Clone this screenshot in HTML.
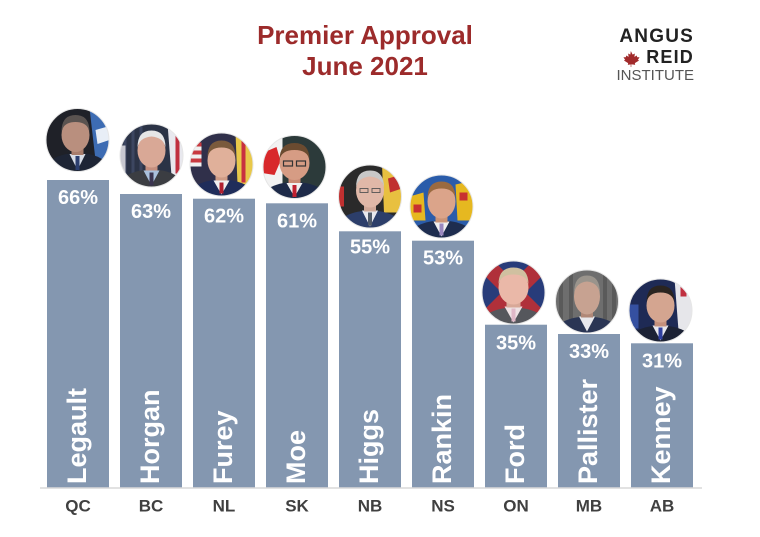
<!DOCTYPE html>
<html><head><meta charset="utf-8"><style>
html,body{margin:0;padding:0;background:#fff;}
svg{display:block;}
text{font-family:"Liberation Sans",Arial,sans-serif;}
</style></head><body>
<svg width="760" height="537" viewBox="0 0 760 537" xmlns="http://www.w3.org/2000/svg">
<defs><clipPath id="c"><circle cx="0" cy="0" r="31.5"/></clipPath></defs>
<rect width="760" height="537" fill="#fff"/>

<!-- Title -->
<text x="365" y="44" font-size="26" font-weight="bold" fill="#9c2b2b" text-anchor="middle">Premier Approval</text>
<text x="365" y="75" font-size="26" font-weight="bold" fill="#9c2b2b" text-anchor="middle">June 2021</text>

<!-- Logo -->
<text x="694" y="42" font-size="19" font-weight="bold" fill="#222" text-anchor="end" letter-spacing="1.2">ANGUS</text>
<text x="694" y="63" font-size="18" font-weight="bold" fill="#222" text-anchor="end" letter-spacing="1.2">REID</text>
<path d="M631,52 l1.5,3 2,-1 -0.5,3.5 2.5,-1.5 0.5,1.5 2,0 -1.5,2.5 1,0.5 -4,2.5 0.3,1.5 -3.3,-0.5 -3.3,0.5 0.3,-1.5 -4,-2.5 1,-0.5 -1.5,-2.5 2,0 0.5,-1.5 2.5,1.5 -0.5,-3.5 2,1 z M631,64 l0,3" fill="#a12a2b" stroke="#a12a2b" stroke-width="0.6"/>
<text x="694" y="80" font-size="15" fill="#555" text-anchor="end">INSTITUTE</text>

<!-- Bars -->
<g fill="#8497b0">
<rect x="47" y="180" width="62" height="308"/>
<rect x="120" y="194" width="62" height="294"/>
<rect x="193" y="198.7" width="62" height="289.3"/>
<rect x="266" y="203.3" width="62" height="284.7"/>
<rect x="339" y="231.3" width="62" height="256.7"/>
<rect x="412" y="240.7" width="62" height="247.3"/>
<rect x="485" y="324.7" width="62" height="163.3"/>
<rect x="558" y="334" width="62" height="154"/>
<rect x="631" y="343.3" width="62" height="144.7"/>
</g>
<line x1="40" y1="488" x2="702" y2="488" stroke="#d9d9d9" stroke-width="1.5"/>

<!-- Percent labels -->
<g font-size="20" font-weight="bold" fill="#fff" text-anchor="middle">
<text x="78" y="204">66%</text>
<text x="151" y="218">63%</text>
<text x="224" y="222.7">62%</text>
<text x="297" y="227.3">61%</text>
<text x="370" y="253.3">55%</text>
<text x="443" y="264.7">53%</text>
<text x="516" y="349.7">35%</text>
<text x="589" y="358">33%</text>
<text x="662" y="367.3">31%</text>
</g>

<!-- Names rotated -->
<g font-size="27" font-weight="bold" fill="#fff">
<text transform="translate(86,484) rotate(-90)">Legault</text>
<text transform="translate(159,484) rotate(-90)">Horgan</text>
<text transform="translate(232,484) rotate(-90)">Furey</text>
<text transform="translate(305,484) rotate(-90)">Moe</text>
<text transform="translate(378,484) rotate(-90)">Higgs</text>
<text transform="translate(451,484) rotate(-90)">Rankin</text>
<text transform="translate(524,484) rotate(-90)">Ford</text>
<text transform="translate(597,484) rotate(-90)">Pallister</text>
<text transform="translate(670,484) rotate(-90)">Kenney</text>
</g>

<!-- Category labels -->
<g font-size="17" font-weight="bold" fill="#404040" text-anchor="middle">
<text x="78" y="511.5">QC</text>
<text x="151" y="511.5">BC</text>
<text x="224" y="511.5">NL</text>
<text x="297" y="511.5">SK</text>
<text x="370" y="511.5">NB</text>
<text x="443" y="511.5">NS</text>
<text x="516" y="511.5">ON</text>
<text x="589" y="511.5">MB</text>
<text x="662" y="511.5">AB</text>
</g>

<!-- Portraits -->
<!-- QC Legault -->
<g transform="translate(77.5,140)">
 <g clip-path="url(#c)">
  <rect x="-32" y="-32" width="64" height="64" fill="#1f2128"/>
  <polygon points="12,-32 32,-32 32,20 18,20" fill="#3d6cb3"/>
  <polygon points="18,-10 32,-14 32,0 20,4" fill="#e8eef6"/>
  <ellipse cx="0" cy="30" rx="32" ry="17" fill="#1e2535"/>
  <polygon points="-8,14 8,14 0,30" fill="#d8dde6"/>
  <rect x="-2" y="16" width="4" height="14" fill="#2c3f70"/>
  <rect x="-6" y="4" width="12" height="11" fill="#a87d6c"/>
  <ellipse cx="-2" cy="-5" rx="14" ry="17" fill="#b98f7e"/>
  <path d="M-16,-8 Q-16,-25 -2,-25 Q12,-25 12,-8 Q10,-18 -2,-18 Q-14,-18 -16,-8z" fill="#5a5350"/>
 </g>
 <circle r="31.5" fill="none" stroke="#e6e6e6" stroke-width="1"/>
</g>
<!-- BC Horgan -->
<g transform="translate(151.5,155.5)">
 <g clip-path="url(#c)">
  <rect x="-32" y="-32" width="64" height="64" fill="#2b3346"/>
  <g fill="#3c4660"><rect x="-28" y="-32" width="3" height="64"/><rect x="-20" y="-32" width="3" height="64"/><rect x="-12" y="-32" width="3" height="64"/></g>
  <polygon points="16,-32 32,-32 32,20 20,20" fill="#e8e8ee"/>
  <rect x="24" y="-32" width="4" height="50" fill="#c03040"/>
  <polygon points="-32,-10 -26,-10 -26,20 -32,20" fill="#c8c8d0"/>
  <ellipse cx="0" cy="31" rx="32" ry="17" fill="#3b3d42"/>
  <polygon points="-8,15 8,15 0,30" fill="#a9c0dc"/>
  <rect x="-2" y="17" width="4" height="13" fill="#3a3450"/>
  <rect x="-6" y="4" width="12" height="11" fill="#c48f7f"/>
  <ellipse cx="0" cy="-5" rx="14" ry="17" fill="#d9a896"/>
  <path d="M-14,-8 Q-14,-25 0,-25 Q14,-25 14,-8 Q12,-18 0,-19 Q-12,-18 -14,-8z" fill="#e6e6e6"/>
 </g>
 <circle r="31.5" fill="none" stroke="#e6e6e6" stroke-width="1"/>
</g>
<!-- NL Furey -->
<g transform="translate(221.5,164.5)">
 <g clip-path="url(#c)">
  <rect x="-32" y="-32" width="64" height="64" fill="#30304a"/>
  <g fill="#c83a40"><rect x="-32" y="-22" width="12" height="4"/><rect x="-32" y="-14" width="12" height="4"/><rect x="-32" y="-6" width="12" height="4"/></g>
  <g fill="#f0f0f0"><rect x="-32" y="-18" width="12" height="4"/><rect x="-32" y="-10" width="12" height="4"/><rect x="-32" y="-2" width="12" height="4"/></g>
  <polygon points="14,-32 32,-32 32,20 16,20" fill="#e8c84a"/>
  <rect x="20" y="-32" width="4" height="50" fill="#c83040"/>
  <ellipse cx="0" cy="31" rx="32" ry="16" fill="#1f2d5a"/>
  <polygon points="-8,16 8,16 0,30" fill="#f0f0f0"/>
  <rect x="-2" y="18" width="4" height="11" fill="#b02030"/>
  <rect x="-6" y="4" width="12" height="12" fill="#cf9c86"/>
  <ellipse cx="0" cy="-4" rx="14" ry="17" fill="#e0b09a"/>
  <path d="M-14,-7 Q-14,-24 0,-24 Q14,-24 14,-7 Q12,-17 0,-17 Q-12,-17 -14,-7z" fill="#7a5a3c"/>
 </g>
 <circle r="31.5" fill="none" stroke="#e6e6e6" stroke-width="1"/>
</g>
<!-- SK Moe -->
<g transform="translate(294.5,167)">
 <g clip-path="url(#c)">
  <rect x="-32" y="-32" width="64" height="64" fill="#2c3a3a"/>
  <rect x="-32" y="-32" width="20" height="64" fill="#f2f2f2"/>
  <polygon points="-32,-14 -18,-20 -14,-6 -20,8 -32,6" fill="#d8282b"/>
  <ellipse cx="0" cy="31" rx="32" ry="16" fill="#1d2a48"/>
  <polygon points="-8,16 8,16 0,30" fill="#f0f0f0"/>
  <rect x="-2" y="18" width="4" height="12" fill="#c02030"/>
  <rect x="-6" y="4" width="12" height="12" fill="#c98a74"/>
  <ellipse cx="0" cy="-4" rx="15" ry="17" fill="#d69c84"/>
  <path d="M-15,-7 Q-15,-24 0,-24 Q15,-24 15,-7 Q13,-17 0,-17 Q-13,-17 -15,-7z" fill="#6b4b30"/>
  <rect x="-11" y="-6" width="9" height="5" fill="none" stroke="#333" stroke-width="1.2"/>
  <rect x="2" y="-6" width="9" height="5" fill="none" stroke="#333" stroke-width="1.2"/>
 </g>
 <circle r="31.5" fill="none" stroke="#e6e6e6" stroke-width="1"/>
</g>
<!-- NB Higgs -->
<g transform="translate(370,196.5)">
 <g clip-path="url(#c)">
  <rect x="-32" y="-32" width="64" height="64" fill="#2a2a2a"/>
  <polygon points="12,-32 32,-32 32,16 14,16" fill="#e8c040"/>
  <polygon points="18,-18 32,-22 32,-8 20,-4" fill="#c03030"/>
  <rect x="-32" y="-10" width="6" height="20" fill="#c03030"/>
  <ellipse cx="0" cy="30" rx="32" ry="16" fill="#2c3e6a"/>
  <polygon points="-8,14 8,14 0,30" fill="#e8e8ee"/>
  <rect x="-2" y="16" width="4" height="13" fill="#505a6a"/>
  <rect x="-6" y="3" width="12" height="12" fill="#d0a898"/>
  <ellipse cx="0" cy="-6" rx="14" ry="17" fill="#e0b8a8"/>
  <path d="M-14,-9 Q-14,-26 0,-26 Q14,-26 14,-9 Q12,-19 0,-20 Q-12,-19 -14,-9z" fill="#c8c8c8"/>
  <rect x="-10" y="-8" width="8" height="4" fill="none" stroke="#555" stroke-width="0.9"/>
  <rect x="2" y="-8" width="8" height="4" fill="none" stroke="#555" stroke-width="0.9"/>
 </g>
 <circle r="31.5" fill="none" stroke="#e6e6e6" stroke-width="1"/>
</g>
<!-- NS Rankin -->
<g transform="translate(441.5,206.5)">
 <g clip-path="url(#c)">
  <rect x="-32" y="-32" width="64" height="64" fill="#2a5caa"/>
  <polygon points="-32,-10 -18,-14 -16,14 -32,14" fill="#e6b820"/>
  <polygon points="14,-22 32,-26 32,14 16,14" fill="#e6b820"/>
  <rect x="18" y="-14" width="8" height="8" fill="#c83030"/>
  <rect x="-28" y="-2" width="8" height="8" fill="#c83030"/>
  <ellipse cx="0" cy="30" rx="32" ry="16" fill="#1e2d4f"/>
  <polygon points="-8,15 8,15 0,30" fill="#f0f0f0"/>
  <rect x="-2" y="17" width="4" height="12" fill="#9a88c0"/>
  <rect x="-6" y="3" width="12" height="13" fill="#cb9478"/>
  <ellipse cx="0" cy="-5" rx="14" ry="17" fill="#dba48a"/>
  <path d="M-14,-8 Q-14,-25 0,-25 Q14,-25 14,-8 Q12,-18 0,-18 Q-12,-18 -14,-8z" fill="#9a6a40"/>
 </g>
 <circle r="31.5" fill="none" stroke="#e6e6e6" stroke-width="1"/>
</g>
<!-- ON Ford -->
<g transform="translate(513.5,292.5)">
 <g clip-path="url(#c)">
  <rect x="-32" y="-32" width="64" height="64" fill="#283c7a"/>
  <polygon points="-32,-32 -20,-32 32,20 32,32 20,32 -32,-20" fill="#b0303a"/>
  <polygon points="32,-32 20,-32 -32,20 -32,32 -20,32 32,-20" fill="#b0303a"/>
  <ellipse cx="0" cy="31" rx="32" ry="16" fill="#55575c"/>
  <polygon points="-9,14 9,14 0,30" fill="#eee2e4"/>
  <rect x="-2" y="16" width="4" height="13" fill="#e0b8c8"/>
  <rect x="-7" y="3" width="14" height="12" fill="#d8a898"/>
  <ellipse cx="0" cy="-5" rx="15" ry="17" fill="#eab8a8"/>
  <path d="M-15,-8 Q-15,-25 0,-25 Q15,-25 15,-8 Q13,-18 0,-18 Q-13,-18 -15,-8z" fill="#d0c0a0"/>
 </g>
 <circle r="31.5" fill="none" stroke="#e6e6e6" stroke-width="1"/>
</g>
<!-- MB Pallister -->
<g transform="translate(587,301.5)">
 <g clip-path="url(#c)">
  <rect x="-32" y="-32" width="64" height="64" fill="#6e6e6e"/>
  <g fill="#5a5a5a"><rect x="-28" y="-32" width="4" height="64"/><rect x="-18" y="-32" width="4" height="64"/><rect x="16" y="-32" width="4" height="64"/><rect x="25" y="-32" width="4" height="64"/></g>
  <ellipse cx="0" cy="31" rx="32" ry="16" fill="#2a3554"/>
  <polygon points="-8,15 8,15 0,30" fill="#e8e8ec"/>
  <rect x="-6" y="3" width="12" height="13" fill="#b08878"/>
  <ellipse cx="0" cy="-5" rx="13" ry="18" fill="#c7a291"/>
  <path d="M-13,-8 Q-13,-26 0,-26 Q13,-26 13,-8 Q11,-19 0,-20 Q-11,-19 -13,-8z" fill="#9a948c"/>
 </g>
 <circle r="31.5" fill="none" stroke="#e6e6e6" stroke-width="1"/>
</g>
<!-- AB Kenney -->
<g transform="translate(660.5,310.5)">
 <g clip-path="url(#c)">
  <rect x="-32" y="-32" width="64" height="64" fill="#1e2a55"/>
  <polygon points="14,-32 32,-32 32,20 18,20" fill="#e6e6ea"/>
  <rect x="20" y="-30" width="6" height="16" fill="#c03040"/>
  <rect x="-32" y="-6" width="10" height="24" fill="#3550a0"/>
  <ellipse cx="0" cy="31" rx="32" ry="16" fill="#1c2235"/>
  <polygon points="-8,15 8,15 0,30" fill="#e8e8ee"/>
  <rect x="-2" y="17" width="4" height="12" fill="#3040a0"/>
  <rect x="-6" y="3" width="12" height="13" fill="#c4907c"/>
  <ellipse cx="0" cy="-5" rx="14" ry="17" fill="#d4a590"/>
  <path d="M-14,-8 Q-14,-25 0,-25 Q14,-25 14,-8 Q12,-18 0,-18 Q-12,-18 -14,-8z" fill="#2a2420"/>
 </g>
 <circle r="31.5" fill="none" stroke="#e6e6e6" stroke-width="1"/>
</g>
</svg>
</body></html>
